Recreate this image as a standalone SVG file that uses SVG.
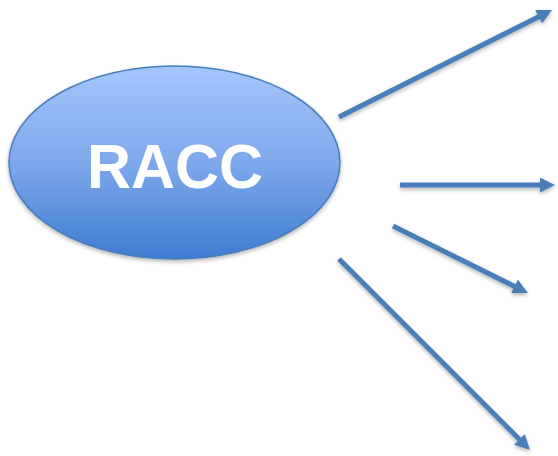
<svg xmlns="http://www.w3.org/2000/svg" width="558" height="456" viewBox="0 0 558 456">
  <defs>
    <linearGradient id="g" x1="0" y1="0" x2="0" y2="1">
      <stop offset="0" stop-color="#a6c6fd"/>
      <stop offset="0.5" stop-color="#7ea8ec"/>
      <stop offset="1" stop-color="#3d7cd0"/>
    </linearGradient>
    <filter id="sh" x="-10%" y="-10%" width="130%" height="130%">
      <feGaussianBlur in="SourceAlpha" stdDeviation="2"/>
      <feOffset dx="0" dy="2" result="b"/>
      <feComponentTransfer><feFuncA type="linear" slope="0.3"/></feComponentTransfer>
      <feMerge><feMergeNode/><feMergeNode in="SourceGraphic"/></feMerge>
    </filter>
    <marker id="ah" viewBox="0 0 10 10" refX="2" refY="5" markerWidth="3" markerHeight="3" orient="auto" markerUnits="strokeWidth">
      <path d="M0,0 L10,5 L0,10 z" fill="#4a7ebb"/>
    </marker>
  </defs>
  <style>
    .c { stroke: #4a7ebb; stroke-width: 5; fill: none; marker-end: url(#ah); }
    .lbl { font-family: "Liberation Sans", Arial, sans-serif; font-weight: bold; fill: #ffffff; }
  </style>
  <g id="racc">
    <ellipse cx="174.5" cy="162.5" rx="165.5" ry="96.5" fill="url(#g)" stroke="#4a7ebb" stroke-width="1.5" filter="url(#sh)"/>
    <text class="lbl" x="175" y="188" font-size="63" text-anchor="middle" textLength="176" lengthAdjust="spacingAndGlyphs">RACC</text>
  </g>
  <g id="connectors" filter="url(#sh)">
    <line class="c" x1="339" y1="117" x2="541.3" y2="15.4"/>
    <line class="c" x1="400" y1="185" x2="543" y2="185"/>
    <line class="c" x1="393" y1="226" x2="517.2" y2="287.7"/>
    <line class="c" x1="339" y1="259" x2="521.5" y2="441.5"/>
  </g>
</svg>
